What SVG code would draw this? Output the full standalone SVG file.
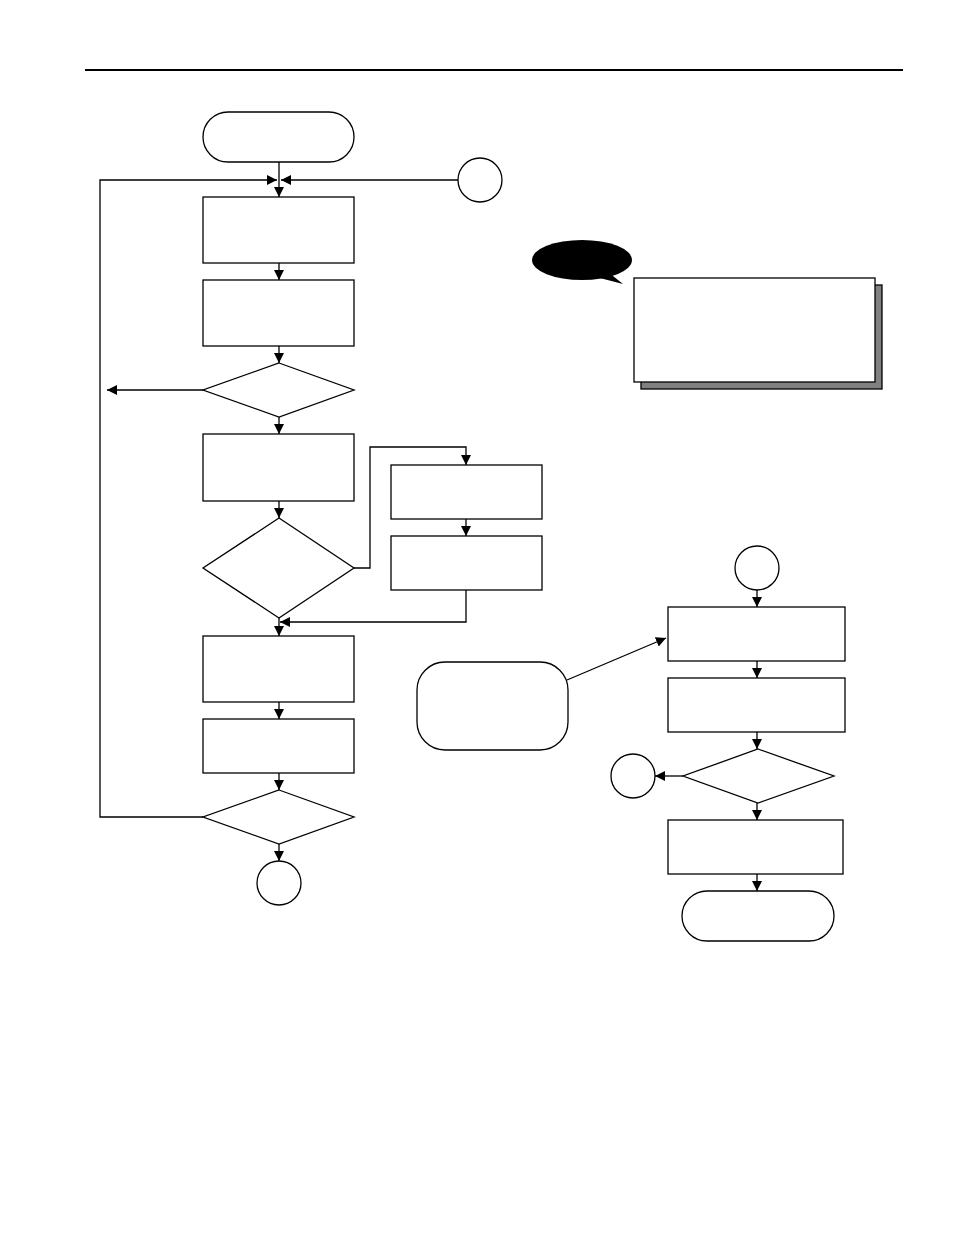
<svg xmlns="http://www.w3.org/2000/svg" width="954" height="1235" viewBox="0 0 954 1235">
<defs>
<marker id="ah" markerWidth="10" markerHeight="10" refX="10" refY="5" orient="auto" markerUnits="userSpaceOnUse">
<path d="M0,0 L10,5 L0,10 Z" fill="#000"/>
</marker>
<style>
.s{fill:#fff;stroke:#000;stroke-width:1.3}
.c{fill:none;stroke:#000;stroke-width:1.3}
.a{fill:none;stroke:#000;stroke-width:1.3;marker-end:url(#ah)}
</style>
</defs>
<rect width="954" height="1235" fill="#fff"/>
<line x1="85" y1="70" x2="903" y2="70" stroke="#000" stroke-width="2"/>
<g id="start"><rect class="s" x="203" y="112" width="151" height="50" rx="25"/></g>
<g id="conn-top"><circle class="s" cx="480" cy="180" r="22"/></g>
<g id="box1"><rect class="s" x="203" y="197" width="151" height="66"/></g>
<g id="box2"><rect class="s" x="203" y="280" width="151" height="66"/></g>
<g id="dec1"><polygon class="s" points="279,363 354,390 279,417 203,390"/></g>
<g id="box3"><rect class="s" x="203" y="434" width="151" height="67"/></g>
<g id="dec2"><polygon class="s" points="279,518 354,568 279,618 203,568"/></g>
<g id="box4"><rect class="s" x="391" y="465" width="151" height="54"/></g>
<g id="box5"><rect class="s" x="391" y="536" width="151" height="54"/></g>
<g id="box6"><rect class="s" x="203" y="636" width="151" height="66"/></g>
<g id="box7"><rect class="s" x="203" y="719" width="151" height="54"/></g>
<g id="dec3"><polygon class="s" points="279,790 354,817 279,844 203,817"/></g>
<g id="conn-bottom"><circle class="s" cx="279" cy="883" r="22"/></g>
<g id="callout">
<ellipse cx="582" cy="260" rx="50" ry="20" fill="#000"/>
<polygon points="592,276 623,284 608,272" fill="#000"/>
</g>
<g id="note">
<rect x="641" y="285" width="241" height="104" fill="#808080" stroke="#000" stroke-width="1.3"/>
<rect class="s" x="634" y="278" width="241" height="104"/>
</g>
<g id="conn-right"><circle class="s" cx="757" cy="568" r="22"/></g>
<g id="box8"><rect class="s" x="668" y="607" width="177" height="54"/></g>
<g id="box9"><rect class="s" x="668" y="678" width="177" height="54"/></g>
<g id="dec4"><polygon class="s" points="758,749 834,776 758,803 683,776"/></g>
<g id="conn-side"><circle class="s" cx="633" cy="776" r="22"/></g>
<g id="box10"><rect class="s" x="668" y="820" width="175" height="54"/></g>
<g id="end"><rect class="s" x="682" y="891" width="152" height="50" rx="25"/></g>
<g id="comment"><rect class="s" x="417" y="662" width="151" height="88" rx="28"/></g>
<g id="connectors">
<line class="a" x1="279" y1="162" x2="279" y2="197"/>
<polyline class="a" points="203,817 100,817 100,180 277,180"/>
<line class="a" x1="458" y1="180" x2="281" y2="180"/>
<line class="a" x1="279" y1="263" x2="279" y2="280"/>
<line class="a" x1="279" y1="346" x2="279" y2="363"/>
<line class="a" x1="203" y1="390" x2="107" y2="390"/>
<line class="a" x1="279" y1="417" x2="279" y2="434"/>
<line class="a" x1="279" y1="501" x2="279" y2="518"/>
<polyline class="a" points="354,568 370,568 370,447 466,447 466,465"/>
<line class="a" x1="466" y1="519" x2="466" y2="536"/>
<polyline class="a" points="466,590 466,622 280,622"/>
<line class="a" x1="279" y1="618" x2="279" y2="636"/>
<line class="a" x1="279" y1="702" x2="279" y2="719"/>
<line class="a" x1="279" y1="773" x2="279" y2="790"/>
<line class="a" x1="279" y1="844" x2="279" y2="861"/>
<line class="a" x1="757" y1="590" x2="757" y2="607"/>
<line class="a" x1="757" y1="661" x2="757" y2="678"/>
<line class="a" x1="757" y1="732" x2="757" y2="749"/>
<line class="a" x1="683" y1="776" x2="655" y2="776"/>
<line class="a" x1="757" y1="803" x2="757" y2="820"/>
<line class="a" x1="757" y1="874" x2="757" y2="891"/>
<line class="a" x1="567" y1="680" x2="666" y2="638"/>
</g>
</svg>
